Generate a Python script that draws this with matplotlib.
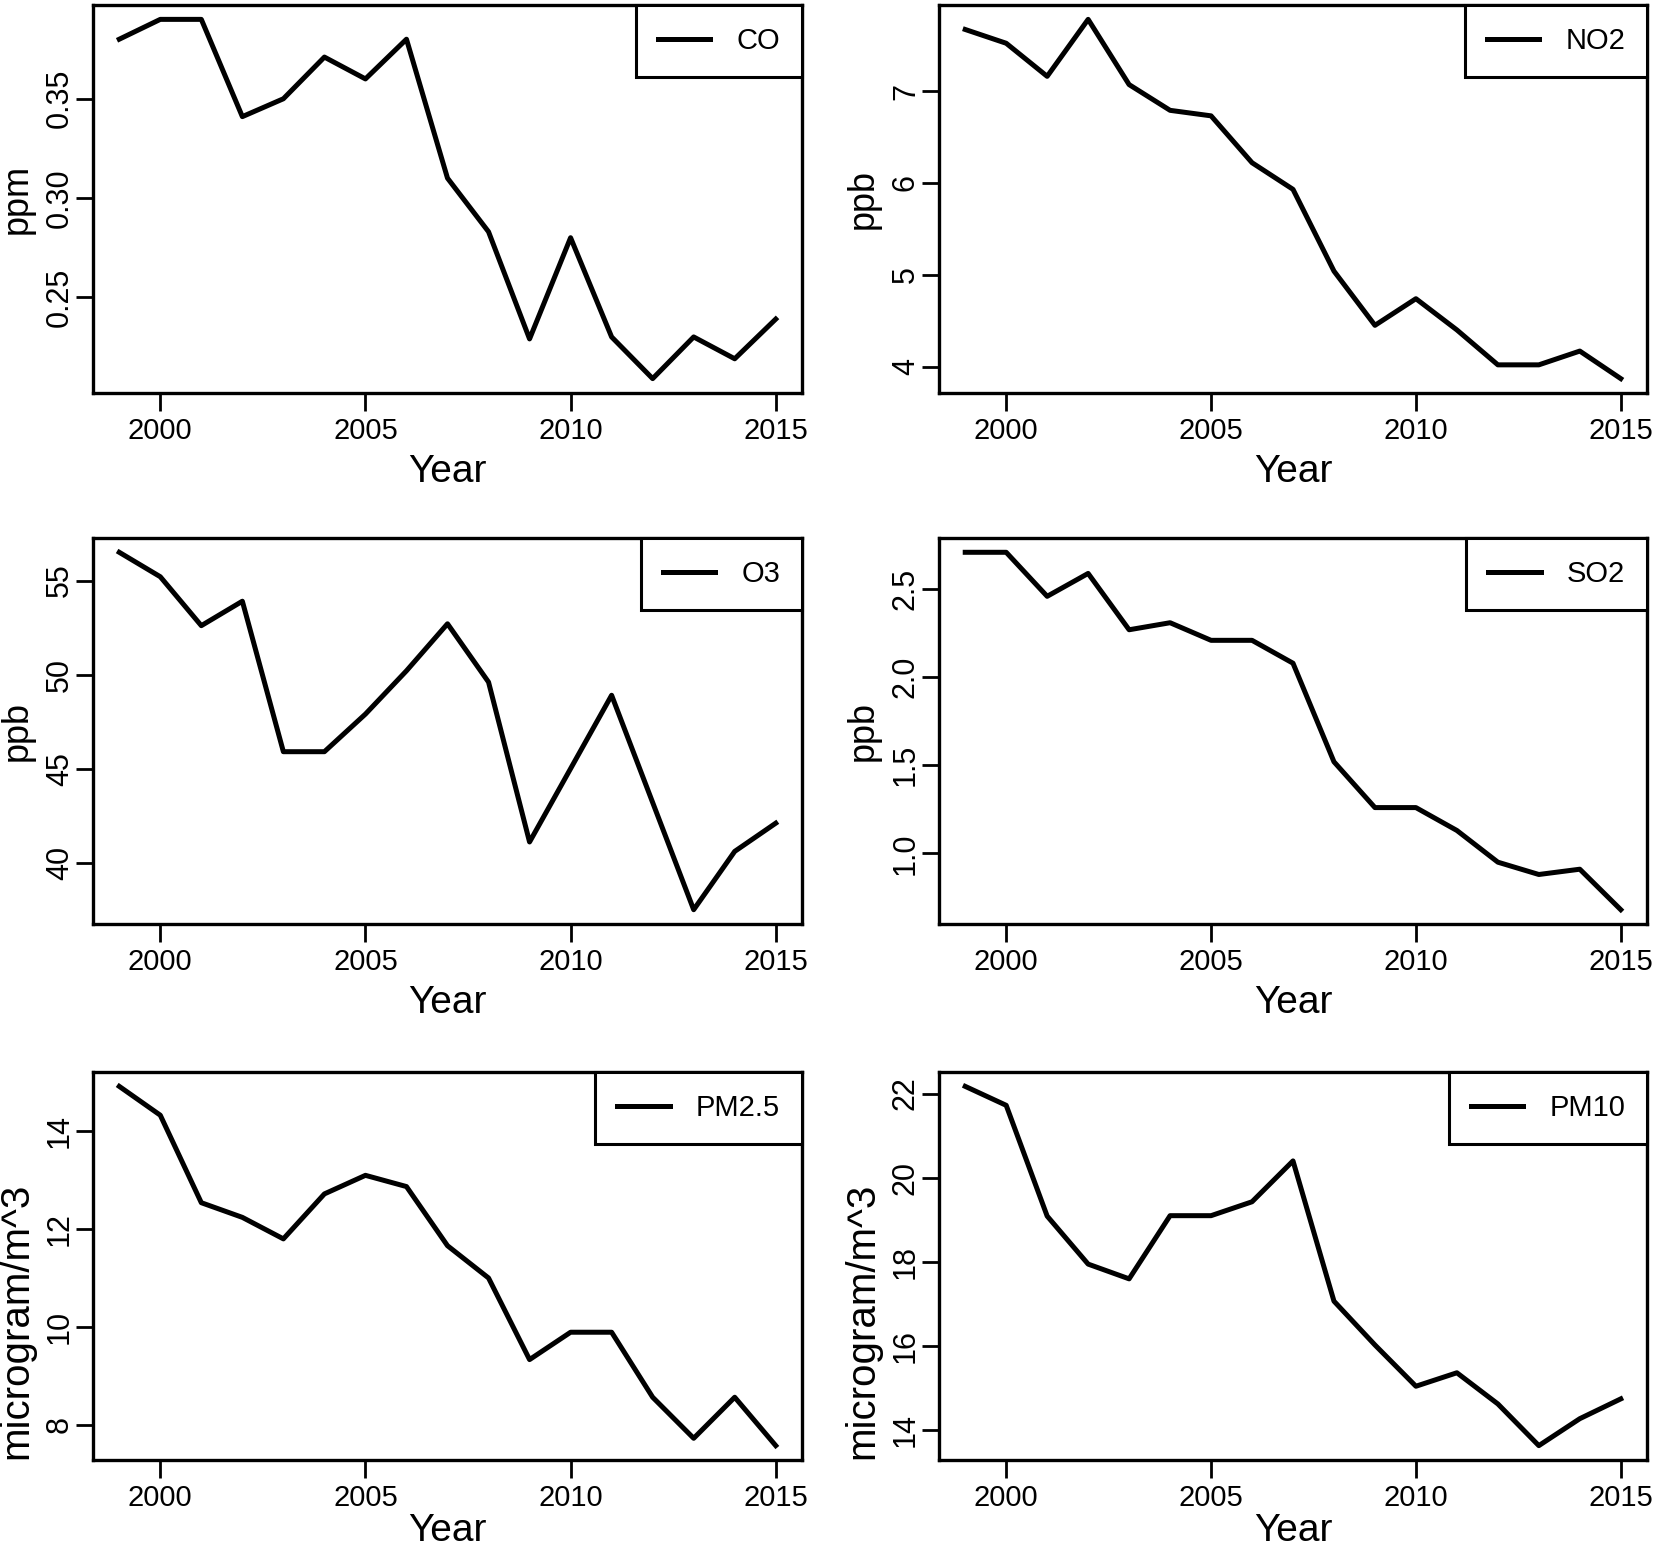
import matplotlib
matplotlib.use("Agg")
import matplotlib.pyplot as plt

plt.rcParams['font.family'] = ['Liberation Sans', 'DejaVu Sans']

years = list(range(1999, 2016))
co = [0.38, 0.39, 0.39, 0.341, 0.35, 0.371, 0.36, 0.38, 0.31, 0.283, 0.229,
      0.28, 0.23, 0.209, 0.23, 0.219, 0.239]
no2 = [7.67, 7.52, 7.16, 7.78, 7.07, 6.79, 6.73, 6.22, 5.93, 5.04, 4.45,
       4.74, 4.40, 4.02, 4.02, 4.17, 3.87]
o3 = [56.5, 55.2, 52.6, 53.9, 45.9, 45.9, 47.9, 50.2, 52.7, 49.6, 41.1,
      45.0, 48.9, 43.2, 37.5, 40.6, 42.1]
so2 = [2.71, 2.71, 2.46, 2.59, 2.27, 2.31, 2.21, 2.21, 2.08, 1.52, 1.26,
       1.26, 1.13, 0.95, 0.88, 0.91, 0.68]
pm25 = [14.92, 14.33, 12.54, 12.24, 11.80, 12.72, 13.10, 12.87, 11.66, 11.00, 9.33,
        9.89, 9.89, 8.56, 7.72, 8.56, 7.57]
pm10 = [22.17, 21.72, 19.09, 17.95, 17.60, 19.10, 19.10, 19.43, 20.40, 17.07, 16.03,
        15.05, 15.37, 14.63, 13.64, 14.28, 14.75]

names = ["CO", "NO2", "O3", "SO2", "PM2.5", "PM10"]
units = ["ppm", "ppb", "ppb", "ppb", "microgram/m^3", "microgram/m^3"]
series = [co, no2, o3, so2, pm25, pm10]
yticks = [[0.25, 0.30, 0.35], [4, 5, 6, 7], [40, 45, 50, 55],
          [1.0, 1.5, 2.0, 2.5], [8, 10, 12, 14], [14, 16, 18, 20, 22]]
yfmt = ["%.2f", "%d", "%d", "%.1f", "%d", "%d"]
xticks = [2000, 2005, 2010, 2015]

W, H = 1654, 1549
fig = plt.figure(figsize=(W / 100, H / 100), dpi=100)

cols = [(93, 802), (939, 1647)]
rows = [(5, 393), (538, 924), (1072, 1460)]

for i in range(6):
    r, c = i // 2, i % 2
    x0, x1 = cols[c]
    y0, y1 = rows[r]
    ax = fig.add_axes([x0 / W, 1 - y1 / H, (x1 - x0) / W, (y1 - y0) / H])
    ax.plot(years, series[i], color='black', lw=3.6, label=names[i])
    ax.margins(x=0.04, y=0.04)
    ax.set_xticks(xticks)
    ax.set_xticklabels([str(t) for t in xticks], fontsize=21)
    ax.set_yticks(yticks[i])
    ax.set_yticklabels([yfmt[i] % t for t in yticks[i]], fontsize=22,
                       rotation=90, va='center')
    ax.tick_params(axis='x', length=13, width=2, pad=4)
    ax.tick_params(axis='y', length=12, width=2, pad=1)
    for s in ax.spines.values():
        s.set_linewidth(2.4)
    ax.set_xlabel("Year", fontsize=28, labelpad=7 if r < 2 else 1)
    if units[i].startswith("micro"):
        ax.set_ylabel(units[i], fontsize=29)
        ax.yaxis.set_label_coords(-58 / 709, 0.36)
    else:
        ax.set_ylabel(units[i], fontsize=26)
        ax.yaxis.set_label_coords(-58 / 709, 0.5)
    leg = ax.legend(loc='upper right', fontsize=21, frameon=True, fancybox=False,
                    borderaxespad=0, borderpad=0.75, handlelength=1.8,
                    handletextpad=0.9, edgecolor='black')
    leg.get_frame().set_linewidth(2.2)
    leg.get_frame().set_alpha(1)

fig.savefig("out.png", dpi=100)
